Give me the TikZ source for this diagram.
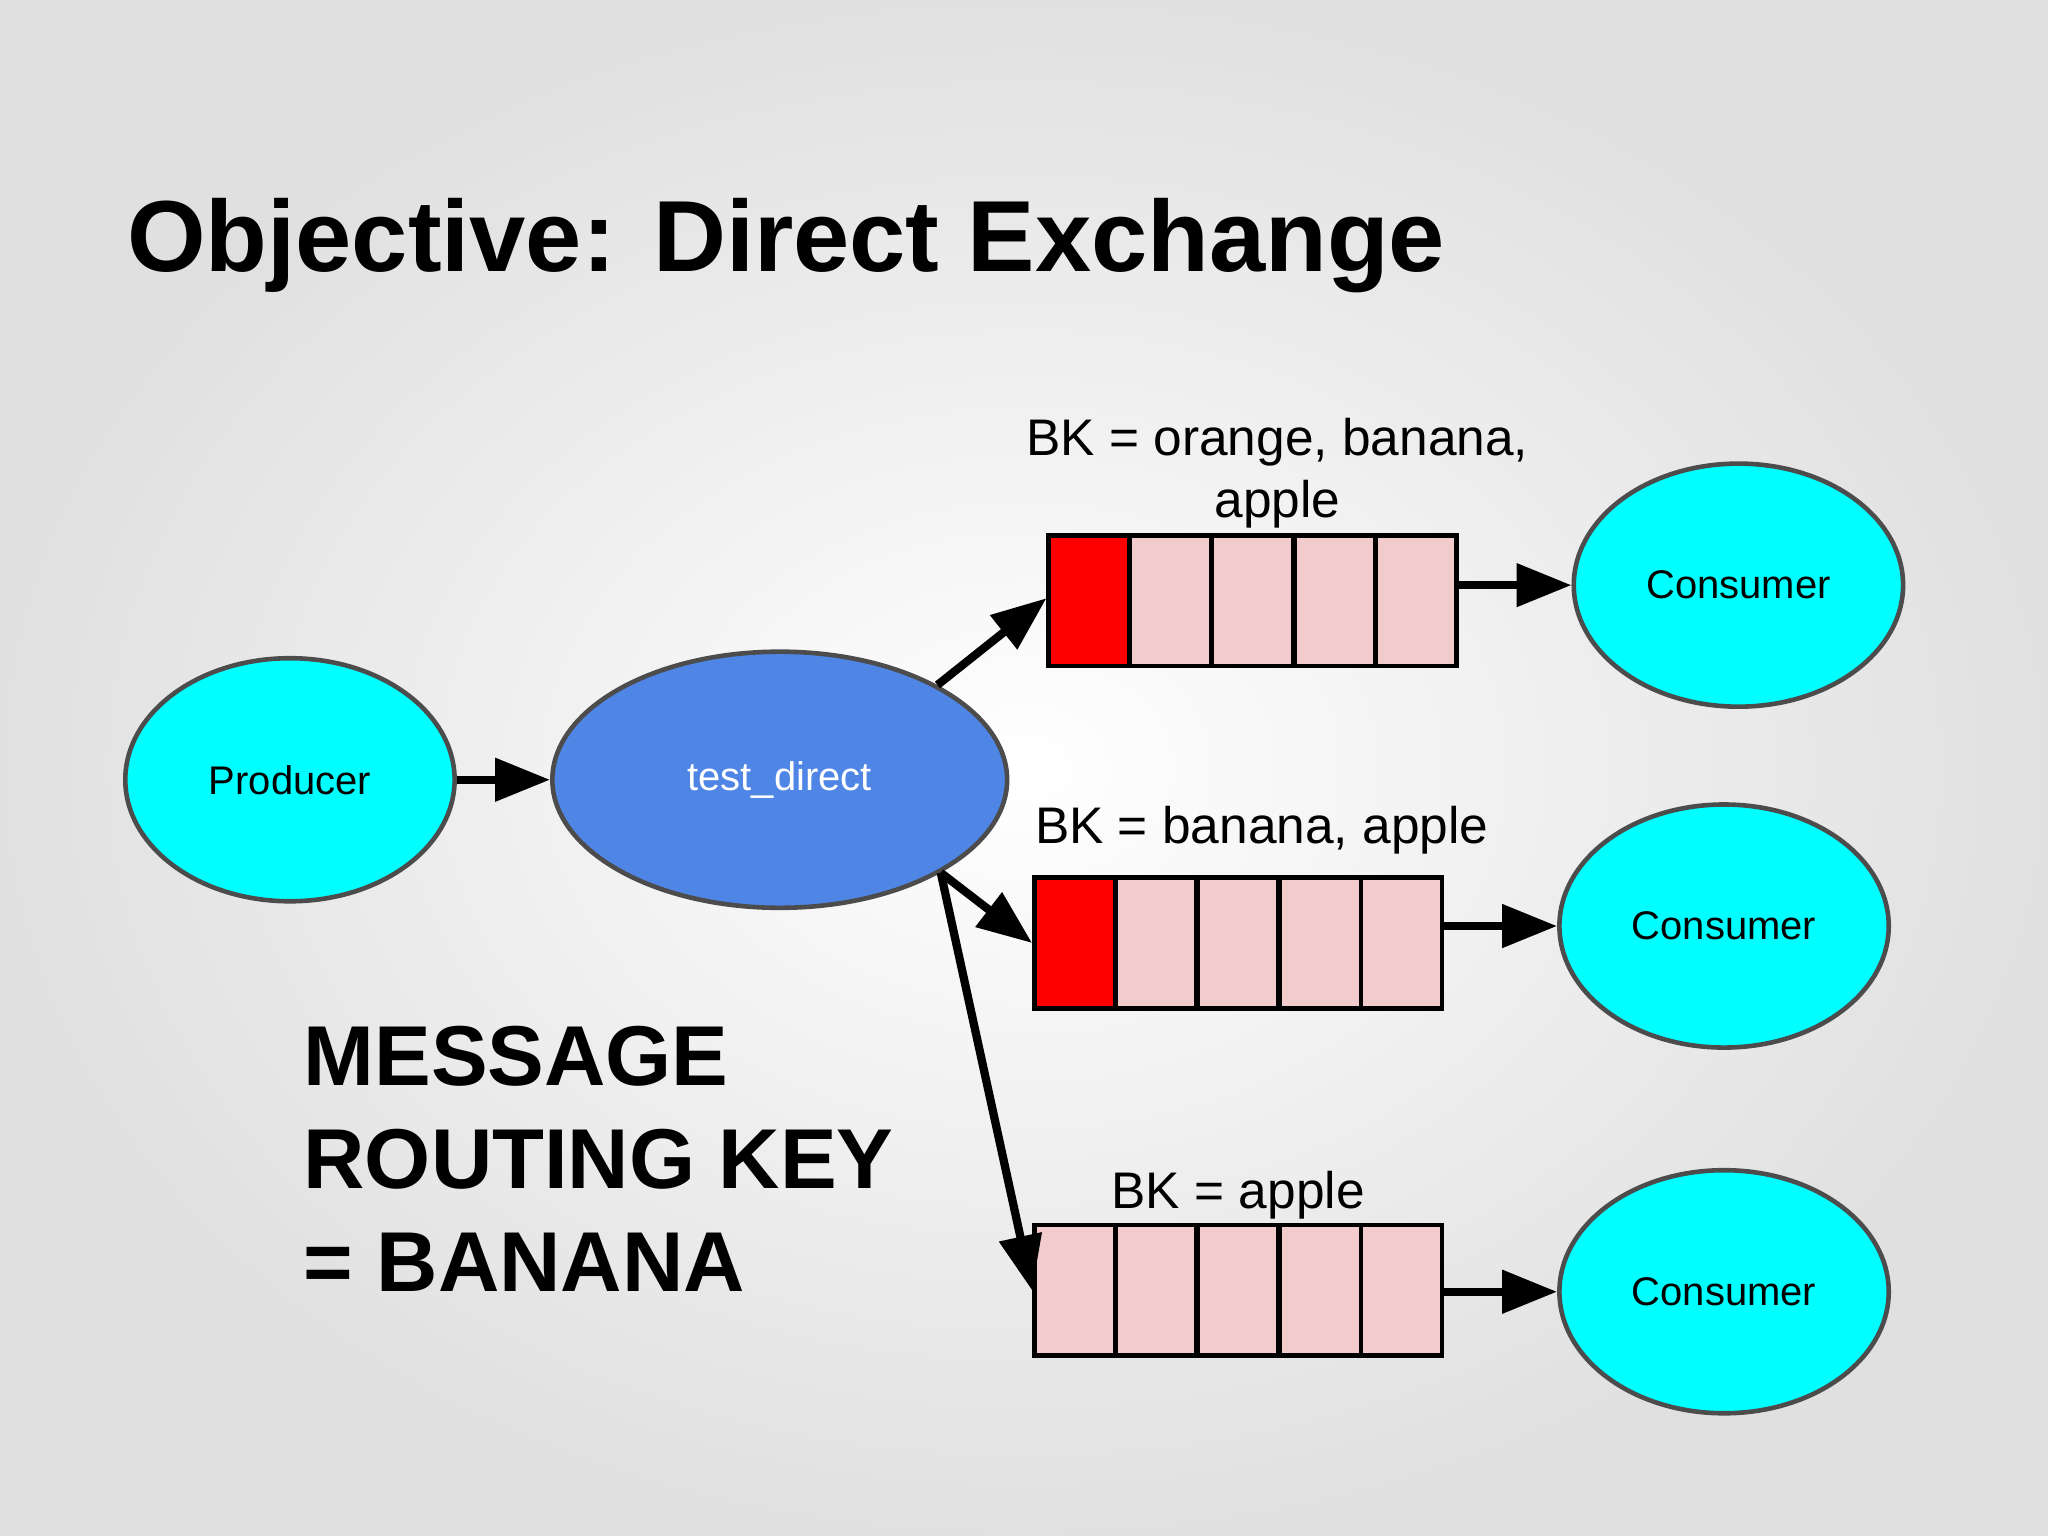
\documentclass[tikz,border=0pt]{standalone}
\usepackage{fontspec}
\setmainfont{Liberation Sans}
\usetikzlibrary{arrows.meta,shapes.geometric}
\definecolor{cy}{HTML}{00FFFF}
\definecolor{bl}{HTML}{4F86E6}
\definecolor{pk}{HTML}{F2CCCC}
\definecolor{rd}{HTML}{FF0000}
\tikzset{
 ell/.style={ellipse,draw=black!70,line width=1pt,fill=cy,inner sep=0pt,font=\fontsize{8.7}{10}\selectfont},
 cell/.style={draw=black,line width=1pt,fill=pk,minimum width=0.62cm,minimum height=1cm,inner sep=0pt},
 red/.style={cell,fill=rd},
 arr/.style={line width=1.8pt,-{Triangle[length=0.42cm,width=0.32cm]}},
 lab/.style={font=\fontsize{11.2}{13.5}\selectfont,align=center},
}
\begin{document}
\begin{tikzpicture}[x=0.01cm,y=-0.01cm]
\shade[inner color=white,outer color=black!12] (0,0) rectangle (1568,1176);
\useasboundingbox (0,0) rectangle (1568,1176);
\node[anchor=base west,font=\bfseries\fontsize{22}{26}\selectfont] (title) at (85,208) {Objective: Direct Exchange};
\node[ell,minimum width=2.52cm,minimum height=1.86cm] (prod) at (222,597) {Producer};
\node[ell,fill=bl,text=white,minimum width=3.48cm,minimum height=1.96cm] (td) at (597,597) {test\_direct};
\node[ell,minimum width=2.52cm,minimum height=1.86cm] (c1) at (1331,448) {Consumer};
\node[ell,minimum width=2.52cm,minimum height=1.86cm] (c2) at (1320,709) {Consumer};
\node[ell,minimum width=2.52cm,minimum height=1.86cm] (c3) at (1320,989) {Consumer};
% queue 1
\node[red] (a1) at (834,460) {};
\node[cell] (a2) at (896,460) {};
\node[cell] (a3) at (959,460) {};
\node[cell] (a4) at (1022,460) {};
\node[cell] (a5) at (1084,460) {};
% queue 2
\node[red] (b1) at (823,722) {};
\node[cell] (b2) at (885,722) {};
\node[cell] (b3) at (948,722) {};
\node[cell] (b4) at (1011,722) {};
\node[cell] (b5) at (1073,722) {};
% queue 3
\node[cell] (d1) at (823,988) {};
\node[cell] (d2) at (885,988) {};
\node[cell] (d3) at (948,988) {};
\node[cell] (d4) at (1011,988) {};
\node[cell] (d5) at (1073,988) {};
\node[lab] (l1) at (978,362) {BK = orange, banana,\\apple};
\node[lab] (l2) at (966,636) {BK = banana, apple};
\node[lab] (l3) at (948,915) {BK = apple};
\node[anchor=north west,align=left,font=\bfseries\fontsize{18.5}{22.5}\selectfont] (msg) at (220,773) {MESSAGE\\ROUTING KEY\\= BANANA};
\draw[arr] (prod) -- (td);
\draw[arr] (td.31) -- ([yshift=0.02cm]a1.west);
\draw[arr] (td.-30) -- (b1.west);
\draw[arr] (td.-30) -- (d1.west);
\draw[arr] (a5.east |- c1) -- (c1.west);
\draw[arr] (b5.east |- c2) -- (c2.west);
\draw[arr] (d5.east |- c3) -- (c3.west);
\end{tikzpicture}
\end{document}
